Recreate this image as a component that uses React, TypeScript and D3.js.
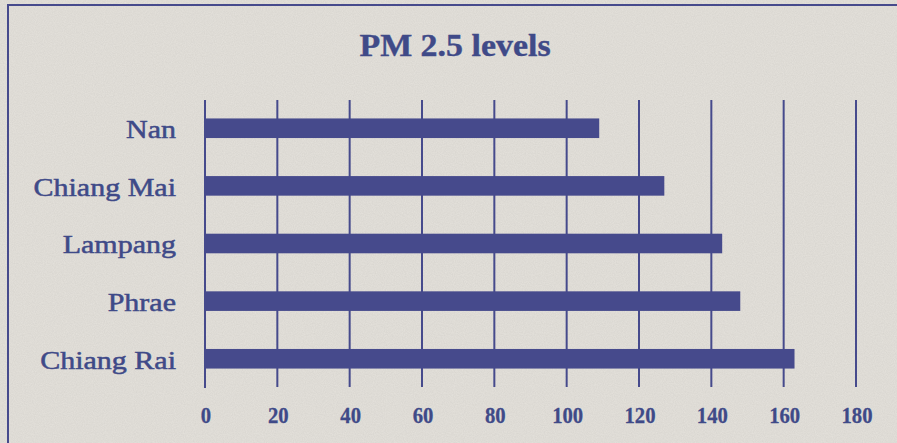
// @ts-nocheck
import * as d3 from "d3"
import * as React from "react"

const cities = ["Nan", "Chiang Mai", "Lampang", "Phrae", "Chiang Rai"]
const pm25 = [109, 127, 143, 148, 163]
const ticks = [0, 20, 40, 60, 80, 100, 120, 140, 160, 180]
const title = "PM 2.5 levels"

const W = 897
const H = 443
const ink = "#464a8c"
const textInk = "#3f4a88"
const paper = "#e5e2dc"

export default function App() {
  const x = d3.scaleLinear().domain([0, 180]).range([205, 856])
  const y = d3.scaleBand().domain(cities).range([100, 387]).paddingInner(0.66).paddingOuter(0.32)
  const serif = "'Liberation Serif', 'Times New Roman', serif"

  return (
    <svg width={W} height={H} style={{ display: "block", position: "absolute", left: 0, top: 0 }}>
      <defs>
        <filter id="grain" x="0" y="0" width="100%" height="100%">
          <feTurbulence type="fractalNoise" baseFrequency="0.9" numOctaves="2" seed="3" />
          <feColorMatrix type="matrix" values="0 0 0 0 0  0 0 0 0 0  0 0 0 0 0  0 0 0 0.06 0" />
        </filter>
      </defs>
      <rect width={W} height={H} fill={paper} />
      <rect width={W} height={H} filter="url(#grain)" />
      <rect x={8} y={5} width={W + 20} height={H + 20} fill="none" stroke={ink} strokeWidth={2} />

      <text transform={`translate(455,56) scale(1.06,1)`} textAnchor="middle" fontFamily={serif}
        fontWeight="bold" fontSize={32} fill={textInk} stroke={textInk} strokeWidth={0.4}>{title}</text>

      {ticks.map(t => (
        <line key={"g" + t} x1={x(t)} x2={x(t)} y1={100} y2={t === 0 ? 388 : 387}
          stroke={ink} strokeWidth={2} />
      ))}

      {cities.map((c, i) => (
        <rect key={c} x={x(0)} y={y(c)} width={x(pm25[i]) - x(0)} height={y.bandwidth()} fill={ink} />
      ))}

      {cities.map(c => (
        <text key={"l" + c} transform={`translate(176,${y(c) + y.bandwidth()}) scale(1.2,1)`}
          textAnchor="end" fontFamily={serif} fontSize={25} fill={textInk}
          stroke={textInk} strokeWidth={0.5}>{c}</text>
      ))}

      {ticks.map(t => (
        <text key={"t" + t} transform={`translate(${x(t) + 1},423) scale(0.9,1)`} textAnchor="middle"
          fontFamily={serif} fontWeight="bold" fontSize={23} fill={textInk}
          stroke={textInk} strokeWidth={0.3}>{t}</text>
      ))}
    </svg>
  )
}
